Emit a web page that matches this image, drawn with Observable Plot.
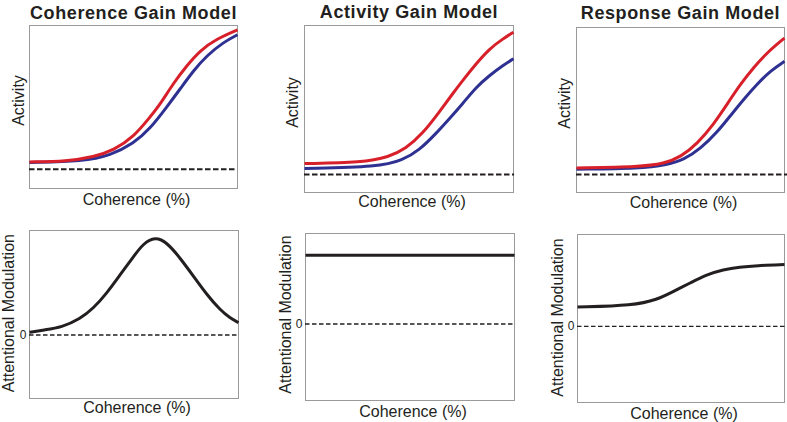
<!DOCTYPE html>
<html>
<head>
<meta charset="utf-8">
<script src="https://cdn.jsdelivr.net/npm/d3@7"></script>
<script src="https://cdn.jsdelivr.net/npm/@observablehq/plot@0.6"></script>
<style>
  html, body { margin: 0; padding: 0; background: #fff; }
  #chart { position: relative; width: 787px; height: 422px; overflow: hidden; }
  #chart svg { position: absolute; left: 0; top: 0; }
  .title text { letter-spacing: 0.6px; }
</style>
</head>
<body>
<div id="chart"></div>
<script>
// ---- Data (x = coherence 0..100, y = arbitrary units) ----
const titles = ["Coherence Gain Model", "Activity Gain Model", "Response Gain Model"];
const xLabel = "Coherence (%)";
const yLabelTop = "Activity";
const yLabelBottom = "Attentional Modulation";
const zeroTick = [0];

// Top row: activity curves (attended = red, unattended = blue)
const cgRed  = [[0,0.163],[18,0.167],[31,0.194],[40.5,0.235],[50,0.316],[58,0.439],[63,0.520],[69,0.643],[75.7,0.755],[82,0.847],[90,0.918],[100,0.973]];
const cgBlue = [[0,0.159],[26,0.167],[39,0.204],[50,0.276],[58,0.367],[66,0.500],[72.5,0.612],[78.9,0.724],[85.3,0.816],[93.3,0.898],[100,0.943]];
const agRed  = [[0,0.173],[27.7,0.179],[40.5,0.213],[48.5,0.263],[56.5,0.352],[64.5,0.482],[70.9,0.592],[75.7,0.671],[82.1,0.771],[88.5,0.861],[94.9,0.920],[100,0.960]];
const agBlue = [[0,0.143],[35.7,0.153],[46.9,0.193],[54.9,0.253],[62.9,0.353],[69.3,0.442],[75.7,0.532],[82.1,0.631],[88.5,0.701],[94.9,0.761],[100,0.801]];
const rgRed  = [[0,0.149],[30.9,0.155],[42.1,0.175],[50.1,0.215],[58.1,0.296],[66.1,0.416],[72.5,0.537],[78.9,0.658],[85.3,0.759],[91.7,0.849],[100,0.936]];
const rgBlue = [[0,0.141],[30.9,0.145],[43.7,0.169],[51.7,0.199],[59.7,0.266],[67.7,0.366],[74.1,0.467],[80.5,0.567],[86.9,0.658],[93.3,0.738],[100,0.795]];
const topBaselines = [0.118, 0.108, 0.109];

// Bottom row: attentional modulation (0 = dashed line)
const cgMod = [[0,0.016],[6.7,0.030],[15.5,0.046],[24.2,0.096],[30.6,0.159],[37,0.249],[43.4,0.359],[49.8,0.468],[54.5,0.545],[60.1,0.584],[65.7,0.552],[72.1,0.458],[78.5,0.349],[84.9,0.239],[91.2,0.149],[96,0.100],[100,0.074]];
const agMod = [[0,0.412],[100,0.412]];
const rgMod = [[0,0.115],[27.2,0.125],[38.4,0.159],[46.4,0.209],[54.4,0.258],[62.4,0.308],[70.4,0.338],[78.4,0.354],[86.4,0.362],[100,0.368]];

// ---- Layout ----
const W = 787, H = 422;
const RED = "#d7202a", BLUE = "#2e3192", INK = "#231f20";
const FONT = "Liberation Sans, Arial, Helvetica, sans-serif";

const panels = [
  {box:[29,25,237,188], y:[0,1], series:[[cgBlue,BLUE],[cgRed,RED]], base:topBaselines[0], title:titles[0], tdy:-7, xdy:16, ydx:-6, ydy:-6.5, ylab:yLabelTop, top:true, ext:100},
  {box:[304,25,513,192], y:[0,1], series:[[agBlue,BLUE],[agRed,RED]], base:topBaselines[1], title:titles[1], tdy:-8, xdy:14, ydx:-7, ydy:-6.5, ylab:yLabelTop, top:true, ext:100.5},
  {box:[576,27,784,192], y:[0,1], series:[[rgBlue,BLUE],[rgRed,RED]], base:topBaselines[2], title:titles[2], tdy:-9, xdy:15, ydx:-7, ydy:-6.7, ylab:yLabelTop, top:true, ext:101.5},
  {box:[29,230,238,398], y:[-0.378,0.622], series:[[cgMod,INK]], base:0, xdy:14, ydx:-16, ydy:-1.3, ylab:yLabelBottom, top:false, ext:100},
  {box:[305,233,514,400], y:[-0.458,0.542], series:[[agMod,INK]], base:0, xdy:16, ydx:-15, ydy:-2.5, ylab:yLabelBottom, top:false, ext:100.5},
  {box:[577,234,784,402], y:[-0.453,0.547], series:[[rgMod,INK]], base:0, xdy:16, ydx:-15, ydy:-1, ylab:yLabelBottom, top:false, ext:101.5}
];

const chart = document.getElementById("chart");

for (const p of panels) {
  const [x0, y0, x1, y1] = p.box;
  const marks = [
    Plot.frame({stroke: "#9a9a9a", strokeWidth: 1}),
    Plot.ruleY([p.base], {x1: 0, x2: p.ext, stroke: INK,
      strokeWidth: p.top ? 2 : 1.3, strokeDasharray: p.top ? "5.5,2.5" : "4.5,2.5"}),
    ...p.series.map(([pts, color]) => Plot.line(pts, {
      x: d => d[0], y: d => d[1], stroke: color, strokeWidth: 3,
      curve: "basis", strokeLinecap: "butt"
    })),
    Plot.text([xLabel], {frameAnchor: "bottom", lineAnchor: "bottom", textAnchor: "middle",
      dy: p.xdy, dx: 3, fontSize: 16, fill: INK}),
    Plot.text([p.ylab], {frameAnchor: "left", lineAnchor: "bottom", textAnchor: "middle", rotate: -90,
      dx: p.ydx, dy: p.ydy, fontSize: 16, fill: INK})
  ];
  if (p.top) {
    marks.push(Plot.text([p.title], {frameAnchor: "top", lineAnchor: "bottom", textAnchor: "middle",
      dy: p.tdy, fontSize: 18, fontWeight: "bold", fill: INK, className: "title"}));
  } else {
    marks.push(Plot.axisY({ticks: zeroTick, tickSize: 0, tickPadding: 3, fontSize: 12,
      label: null, tickFormat: d => String(d), color: INK}));
  }
  const svg = Plot.plot({
    width: W, height: H,
    marginLeft: x0, marginRight: W - x1, marginTop: y0, marginBottom: H - y1,
    x: {domain: [0, 100], axis: null},
    y: {domain: p.y, axis: null},
    style: {background: "transparent", fontFamily: FONT, overflow: "visible"},
    marks
  });
  chart.appendChild(svg);
}
</script>
</body>
</html>
